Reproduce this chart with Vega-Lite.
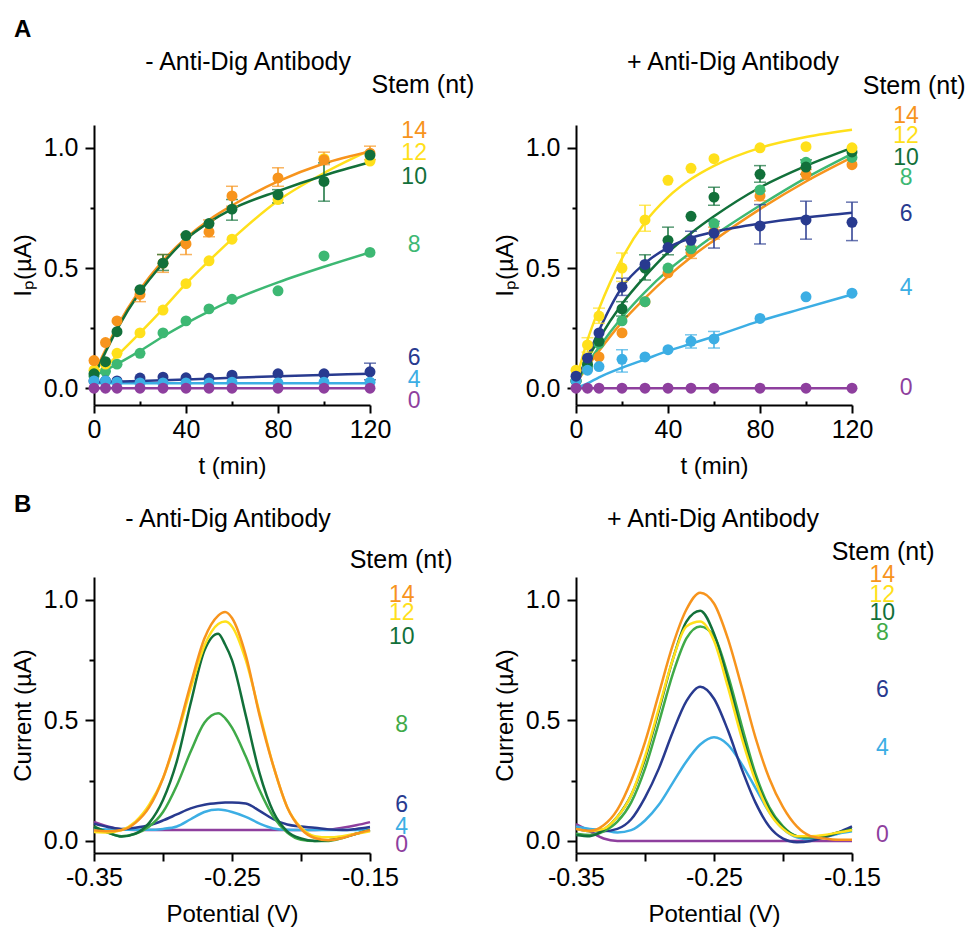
{
"$schema": "https://vega.github.io/schema/vega-lite/v6.json",
"padding": {"left": 11, "top": 17, "right": 5, "bottom": 5},
"background": "white",
"config": {
 "view": {"stroke": null},
 "font": "Liberation Sans",
 "axis": {"domainColor": "black", "domainWidth": 2, "tickColor": "black", "tickWidth": 2, "labelColor": "black", "titleColor": "black", "labelFontSize": 25, "titleFontSize": 24, "titleFontWeight": "normal", "grid": false, "labelFlush": false, "labelFont": "Liberation Sans", "titleFont": "Liberation Sans"},
 "text": {"font": "Liberation Sans", "color": "black"}
},
"datasets": {
 "pts": [
  {"g":"AL","s":"s8","t":0,"v":0.05},{"g":"AL","s":"s8","t":5,"v":0.07},{"g":"AL","s":"s8","t":10,"v":0.10},{"g":"AL","s":"s8","t":20,"v":0.145},{"g":"AL","s":"s8","t":30,"v":0.23},{"g":"AL","s":"s8","t":40,"v":0.28},{"g":"AL","s":"s8","t":50,"v":0.33},{"g":"AL","s":"s8","t":60,"v":0.37},{"g":"AL","s":"s8","t":80,"v":0.405},{"g":"AL","s":"s8","t":100,"v":0.55},{"g":"AL","s":"s8","t":120,"v":0.565},
  {"g":"AL","s":"s12","t":0,"v":0.075},{"g":"AL","s":"s12","t":5,"v":0.10},{"g":"AL","s":"s12","t":10,"v":0.145},{"g":"AL","s":"s12","t":20,"v":0.23},{"g":"AL","s":"s12","t":30,"v":0.325},{"g":"AL","s":"s12","t":40,"v":0.435},{"g":"AL","s":"s12","t":50,"v":0.53},{"g":"AL","s":"s12","t":60,"v":0.62},{"g":"AL","s":"s12","t":80,"v":0.785},{"g":"AL","s":"s12","t":100,"v":0.955},{"g":"AL","s":"s12","t":120,"v":0.945},
  {"g":"AL","s":"s14","t":0,"v":0.115},{"g":"AL","s":"s14","t":5,"v":0.19},{"g":"AL","s":"s14","t":10,"v":0.28},{"g":"AL","s":"s14","t":20,"v":0.39,"lo":0.36,"hi":0.41},{"g":"AL","s":"s14","t":30,"v":0.52,"lo":0.482,"hi":0.556},{"g":"AL","s":"s14","t":40,"v":0.60,"lo":0.556,"hi":0.64},{"g":"AL","s":"s14","t":50,"v":0.65,"lo":0.63,"hi":0.70},{"g":"AL","s":"s14","t":60,"v":0.80,"lo":0.757,"hi":0.84},{"g":"AL","s":"s14","t":80,"v":0.875,"lo":0.84,"hi":0.917},{"g":"AL","s":"s14","t":100,"v":0.95,"lo":0.93,"hi":0.982},{"g":"AL","s":"s14","t":120,"v":0.978,"lo":0.951,"hi":1.007},
  {"g":"AL","s":"s10","t":0,"v":0.06},{"g":"AL","s":"s10","t":5,"v":0.11},{"g":"AL","s":"s10","t":10,"v":0.235},{"g":"AL","s":"s10","t":20,"v":0.41},{"g":"AL","s":"s10","t":30,"v":0.52,"lo":0.49,"hi":0.556},{"g":"AL","s":"s10","t":40,"v":0.635},{"g":"AL","s":"s10","t":50,"v":0.685},{"g":"AL","s":"s10","t":60,"v":0.745,"lo":0.699,"hi":0.785},{"g":"AL","s":"s10","t":80,"v":0.805,"lo":0.771,"hi":0.826},{"g":"AL","s":"s10","t":100,"v":0.86,"lo":0.778,"hi":0.9375},{"g":"AL","s":"s10","t":120,"v":0.97},
  {"g":"AL","s":"s6","t":0,"v":0.03},{"g":"AL","s":"s6","t":5,"v":0.03},{"g":"AL","s":"s6","t":10,"v":0.03},{"g":"AL","s":"s6","t":20,"v":0.042},{"g":"AL","s":"s6","t":30,"v":0.046},{"g":"AL","s":"s6","t":40,"v":0.043},{"g":"AL","s":"s6","t":50,"v":0.041},{"g":"AL","s":"s6","t":60,"v":0.054},{"g":"AL","s":"s6","t":80,"v":0.06},{"g":"AL","s":"s6","t":100,"v":0.06},{"g":"AL","s":"s6","t":120,"v":0.068,"lo":0.035,"hi":0.104},
  {"g":"AL","s":"s4","t":0,"v":0.03},{"g":"AL","s":"s4","t":5,"v":0.03},{"g":"AL","s":"s4","t":10,"v":0.025},{"g":"AL","s":"s4","t":20,"v":0.022},{"g":"AL","s":"s4","t":30,"v":0.022},{"g":"AL","s":"s4","t":40,"v":0.022},{"g":"AL","s":"s4","t":50,"v":0.022},{"g":"AL","s":"s4","t":60,"v":0.025},{"g":"AL","s":"s4","t":80,"v":0.022},{"g":"AL","s":"s4","t":100,"v":0.025},{"g":"AL","s":"s4","t":120,"v":0.025},
  {"g":"AL","s":"s0","t":0,"v":0},{"g":"AL","s":"s0","t":5,"v":0},{"g":"AL","s":"s0","t":10,"v":0},{"g":"AL","s":"s0","t":20,"v":0},{"g":"AL","s":"s0","t":30,"v":0},{"g":"AL","s":"s0","t":40,"v":0},{"g":"AL","s":"s0","t":50,"v":0},{"g":"AL","s":"s0","t":60,"v":0},{"g":"AL","s":"s0","t":80,"v":0},{"g":"AL","s":"s0","t":100,"v":0},{"g":"AL","s":"s0","t":120,"v":0},
  {"g":"AR","s":"s14","t":0,"v":0.03},{"g":"AR","s":"s14","t":5,"v":0.08},{"g":"AR","s":"s14","t":10,"v":0.13},{"g":"AR","s":"s14","t":20,"v":0.23},{"g":"AR","s":"s14","t":30,"v":0.36},{"g":"AR","s":"s14","t":40,"v":0.48},{"g":"AR","s":"s14","t":50,"v":0.565,"lo":0.54,"hi":0.59},{"g":"AR","s":"s14","t":60,"v":0.65,"lo":0.62,"hi":0.67},{"g":"AR","s":"s14","t":80,"v":0.80,"lo":0.78,"hi":0.82},{"g":"AR","s":"s14","t":100,"v":0.89,"lo":0.87,"hi":0.91},{"g":"AR","s":"s14","t":120,"v":0.93},
  {"g":"AR","s":"s8","t":0,"v":0.03},{"g":"AR","s":"s8","t":5,"v":0.09},{"g":"AR","s":"s8","t":10,"v":0.185},{"g":"AR","s":"s8","t":20,"v":0.28},{"g":"AR","s":"s8","t":30,"v":0.36},{"g":"AR","s":"s8","t":40,"v":0.50},{"g":"AR","s":"s8","t":50,"v":0.58},{"g":"AR","s":"s8","t":60,"v":0.685},{"g":"AR","s":"s8","t":80,"v":0.825},{"g":"AR","s":"s8","t":100,"v":0.94},{"g":"AR","s":"s8","t":120,"v":0.96},
  {"g":"AR","s":"s10","t":0,"v":0.03},{"g":"AR","s":"s10","t":5,"v":0.10},{"g":"AR","s":"s10","t":10,"v":0.195},{"g":"AR","s":"s10","t":20,"v":0.33,"lo":0.30,"hi":0.36},{"g":"AR","s":"s10","t":30,"v":0.50,"lo":0.45,"hi":0.555},{"g":"AR","s":"s10","t":40,"v":0.615,"lo":0.555,"hi":0.67},{"g":"AR","s":"s10","t":50,"v":0.715},{"g":"AR","s":"s10","t":60,"v":0.795,"lo":0.761,"hi":0.836},{"g":"AR","s":"s10","t":80,"v":0.89,"lo":0.857,"hi":0.926},{"g":"AR","s":"s10","t":100,"v":0.92,"lo":0.89,"hi":0.95},{"g":"AR","s":"s10","t":120,"v":0.983},
  {"g":"AR","s":"s12","t":0,"v":0.075},{"g":"AR","s":"s12","t":5,"v":0.18,"lo":0.15,"hi":0.21},{"g":"AR","s":"s12","t":10,"v":0.30,"lo":0.27,"hi":0.333},{"g":"AR","s":"s12","t":20,"v":0.50,"lo":0.444,"hi":0.5625},{"g":"AR","s":"s12","t":30,"v":0.70,"lo":0.653,"hi":0.761},{"g":"AR","s":"s12","t":40,"v":0.865},{"g":"AR","s":"s12","t":50,"v":0.915},{"g":"AR","s":"s12","t":60,"v":0.955},{"g":"AR","s":"s12","t":80,"v":1.0},{"g":"AR","s":"s12","t":100,"v":1.005},{"g":"AR","s":"s12","t":120,"v":1.0},
  {"g":"AR","s":"s4","t":0,"v":0.03},{"g":"AR","s":"s4","t":5,"v":0.075},{"g":"AR","s":"s4","t":10,"v":0.09},{"g":"AR","s":"s4","t":20,"v":0.12,"lo":0.067,"hi":0.16},{"g":"AR","s":"s4","t":30,"v":0.13},{"g":"AR","s":"s4","t":40,"v":0.16},{"g":"AR","s":"s4","t":50,"v":0.195,"lo":0.167,"hi":0.222},{"g":"AR","s":"s4","t":60,"v":0.205,"lo":0.167,"hi":0.236},{"g":"AR","s":"s4","t":80,"v":0.29},{"g":"AR","s":"s4","t":100,"v":0.38},{"g":"AR","s":"s4","t":120,"v":0.395},
  {"g":"AR","s":"s6","t":0,"v":0.05},{"g":"AR","s":"s6","t":5,"v":0.125},{"g":"AR","s":"s6","t":10,"v":0.23},{"g":"AR","s":"s6","t":20,"v":0.42,"lo":0.386,"hi":0.458},{"g":"AR","s":"s6","t":30,"v":0.515},{"g":"AR","s":"s6","t":40,"v":0.585},{"g":"AR","s":"s6","t":50,"v":0.615,"lo":0.576,"hi":0.653},{"g":"AR","s":"s6","t":60,"v":0.645,"lo":0.583,"hi":0.694},{"g":"AR","s":"s6","t":80,"v":0.675,"lo":0.60,"hi":0.764},{"g":"AR","s":"s6","t":100,"v":0.70,"lo":0.62,"hi":0.778},{"g":"AR","s":"s6","t":120,"v":0.69,"lo":0.614,"hi":0.774},
  {"g":"AR","s":"s0","t":0,"v":0},{"g":"AR","s":"s0","t":5,"v":0},{"g":"AR","s":"s0","t":10,"v":0},{"g":"AR","s":"s0","t":20,"v":0},{"g":"AR","s":"s0","t":30,"v":0},{"g":"AR","s":"s0","t":40,"v":0},{"g":"AR","s":"s0","t":50,"v":0},{"g":"AR","s":"s0","t":60,"v":0},{"g":"AR","s":"s0","t":80,"v":0},{"g":"AR","s":"s0","t":100,"v":0},{"g":"AR","s":"s0","t":120,"v":0}
 ],
 "fits": [
  {"g":"AL","s":"s0","t":0,"v":0},{"g":"AL","s":"s0","t":120,"v":0},
  {"g":"AL","s":"s4","t":0,"v":0.02},{"g":"AL","s":"s4","t":60,"v":0.02},{"g":"AL","s":"s4","t":120,"v":0.021},
  {"g":"AL","s":"s6","t":0,"v":0.025},{"g":"AL","s":"s6","t":20,"v":0.03},{"g":"AL","s":"s6","t":40,"v":0.036},{"g":"AL","s":"s6","t":60,"v":0.043},{"g":"AL","s":"s6","t":80,"v":0.05},{"g":"AL","s":"s6","t":100,"v":0.055},{"g":"AL","s":"s6","t":120,"v":0.06},
  {"g":"AL","s":"s8","t":0,"v":0.05},{"g":"AL","s":"s8","t":5,"v":0.075},{"g":"AL","s":"s8","t":10,"v":0.10},{"g":"AL","s":"s8","t":20,"v":0.155},{"g":"AL","s":"s8","t":30,"v":0.215},{"g":"AL","s":"s8","t":40,"v":0.27},{"g":"AL","s":"s8","t":50,"v":0.32},{"g":"AL","s":"s8","t":60,"v":0.365},{"g":"AL","s":"s8","t":80,"v":0.44},{"g":"AL","s":"s8","t":100,"v":0.505},{"g":"AL","s":"s8","t":120,"v":0.565},
  {"g":"AL","s":"s12","t":0,"v":0.06},{"g":"AL","s":"s12","t":5,"v":0.09},{"g":"AL","s":"s12","t":10,"v":0.135},{"g":"AL","s":"s12","t":20,"v":0.23},{"g":"AL","s":"s12","t":30,"v":0.33},{"g":"AL","s":"s12","t":40,"v":0.435},{"g":"AL","s":"s12","t":50,"v":0.53},{"g":"AL","s":"s12","t":60,"v":0.62},{"g":"AL","s":"s12","t":80,"v":0.78},{"g":"AL","s":"s12","t":100,"v":0.895},{"g":"AL","s":"s12","t":120,"v":0.99},
  {"g":"AL","s":"s14","t":0,"v":0.06},{"g":"AL","s":"s14","t":5,"v":0.16},{"g":"AL","s":"s14","t":10,"v":0.255},{"g":"AL","s":"s14","t":20,"v":0.41},{"g":"AL","s":"s14","t":30,"v":0.53},{"g":"AL","s":"s14","t":40,"v":0.625},{"g":"AL","s":"s14","t":50,"v":0.70},{"g":"AL","s":"s14","t":60,"v":0.76},{"g":"AL","s":"s14","t":80,"v":0.86},{"g":"AL","s":"s14","t":100,"v":0.935},{"g":"AL","s":"s14","t":120,"v":0.985},
  {"g":"AL","s":"s10","t":0,"v":0.05},{"g":"AL","s":"s10","t":5,"v":0.15},{"g":"AL","s":"s10","t":10,"v":0.245},{"g":"AL","s":"s10","t":20,"v":0.40},{"g":"AL","s":"s10","t":30,"v":0.52},{"g":"AL","s":"s10","t":40,"v":0.62},{"g":"AL","s":"s10","t":50,"v":0.69},{"g":"AL","s":"s10","t":60,"v":0.745},{"g":"AL","s":"s10","t":80,"v":0.82},{"g":"AL","s":"s10","t":100,"v":0.885},{"g":"AL","s":"s10","t":120,"v":0.94},
  {"g":"AR","s":"s0","t":0,"v":0},{"g":"AR","s":"s0","t":120,"v":0},
  {"g":"AR","s":"s4","t":0,"v":0.0},{"g":"AR","s":"s4","t":5,"v":0.02},{"g":"AR","s":"s4","t":10,"v":0.045},{"g":"AR","s":"s4","t":20,"v":0.085},{"g":"AR","s":"s4","t":30,"v":0.12},{"g":"AR","s":"s4","t":40,"v":0.155},{"g":"AR","s":"s4","t":50,"v":0.185},{"g":"AR","s":"s4","t":60,"v":0.215},{"g":"AR","s":"s4","t":80,"v":0.28},{"g":"AR","s":"s4","t":100,"v":0.335},{"g":"AR","s":"s4","t":120,"v":0.39},
  {"g":"AR","s":"s14","t":0,"v":0.02},{"g":"AR","s":"s14","t":5,"v":0.09},{"g":"AR","s":"s14","t":10,"v":0.155},{"g":"AR","s":"s14","t":20,"v":0.275},{"g":"AR","s":"s14","t":30,"v":0.375},{"g":"AR","s":"s14","t":40,"v":0.465},{"g":"AR","s":"s14","t":50,"v":0.545},{"g":"AR","s":"s14","t":60,"v":0.615},{"g":"AR","s":"s14","t":80,"v":0.745},{"g":"AR","s":"s14","t":100,"v":0.86},{"g":"AR","s":"s14","t":120,"v":0.96},
  {"g":"AR","s":"s8","t":0,"v":0.02},{"g":"AR","s":"s8","t":5,"v":0.10},{"g":"AR","s":"s8","t":10,"v":0.17},{"g":"AR","s":"s8","t":20,"v":0.295},{"g":"AR","s":"s8","t":30,"v":0.40},{"g":"AR","s":"s8","t":40,"v":0.49},{"g":"AR","s":"s8","t":50,"v":0.565},{"g":"AR","s":"s8","t":60,"v":0.635},{"g":"AR","s":"s8","t":80,"v":0.76},{"g":"AR","s":"s8","t":100,"v":0.875},{"g":"AR","s":"s8","t":120,"v":0.975},
  {"g":"AR","s":"s10","t":0,"v":0.02},{"g":"AR","s":"s10","t":5,"v":0.12},{"g":"AR","s":"s10","t":10,"v":0.205},{"g":"AR","s":"s10","t":20,"v":0.35},{"g":"AR","s":"s10","t":30,"v":0.465},{"g":"AR","s":"s10","t":40,"v":0.565},{"g":"AR","s":"s10","t":50,"v":0.645},{"g":"AR","s":"s10","t":60,"v":0.715},{"g":"AR","s":"s10","t":80,"v":0.835},{"g":"AR","s":"s10","t":100,"v":0.925},{"g":"AR","s":"s10","t":120,"v":1.0},
  {"g":"AR","s":"s12","t":0,"v":0.03},{"g":"AR","s":"s12","t":5,"v":0.20},{"g":"AR","s":"s12","t":10,"v":0.33},{"g":"AR","s":"s12","t":20,"v":0.54},{"g":"AR","s":"s12","t":30,"v":0.69},{"g":"AR","s":"s12","t":40,"v":0.795},{"g":"AR","s":"s12","t":50,"v":0.87},{"g":"AR","s":"s12","t":60,"v":0.925},{"g":"AR","s":"s12","t":80,"v":1.0},{"g":"AR","s":"s12","t":100,"v":1.045},{"g":"AR","s":"s12","t":120,"v":1.075},
  {"g":"AR","s":"s6","t":0,"v":0.03},{"g":"AR","s":"s6","t":5,"v":0.13},{"g":"AR","s":"s6","t":10,"v":0.24},{"g":"AR","s":"s6","t":20,"v":0.42},{"g":"AR","s":"s6","t":30,"v":0.52},{"g":"AR","s":"s6","t":40,"v":0.585},{"g":"AR","s":"s6","t":50,"v":0.625},{"g":"AR","s":"s6","t":60,"v":0.65},{"g":"AR","s":"s6","t":80,"v":0.685},{"g":"AR","s":"s6","t":100,"v":0.71},{"g":"AR","s":"s6","t":120,"v":0.73}
 ],
 "labs": [
  {"g":"AL","s":"s14","lab":"14","lx":139.2,"ly":1.072},{"g":"AL","s":"s12","lab":"12","lx":139.2,"ly":0.979},{"g":"AL","s":"s10","lab":"10","lx":139.2,"ly":0.88},{"g":"AL","s":"s8","lab":"8","lx":139.2,"ly":0.596},{"g":"AL","s":"s6","lab":"6","lx":139.2,"ly":0.125},{"g":"AL","s":"s4","lab":"4","lx":139.2,"ly":0.033},{"g":"AL","s":"s0","lab":"0","lx":139.2,"ly":-0.053},
  {"g":"AR","s":"s14","lab":"14","lx":143.5,"ly":1.133},{"g":"AR","s":"s12","lab":"12","lx":143.5,"ly":1.05},{"g":"AR","s":"s10","lab":"10","lx":143.5,"ly":0.958},{"g":"AR","s":"s8","lab":"8","lx":143.5,"ly":0.875},{"g":"AR","s":"s6","lab":"6","lx":143.5,"ly":0.725},{"g":"AR","s":"s4","lab":"4","lx":143.5,"ly":0.417},{"g":"AR","s":"s0","lab":"0","lx":143.5,"ly":0.0},
  {"g":"BL","s":"s14","lab":"14","lx":-0.127,"ly":1.021},{"g":"BL","s":"s12","lab":"12","lx":-0.127,"ly":0.946},{"g":"BL","s":"s10","lab":"10","lx":-0.127,"ly":0.846},{"g":"BL","s":"s8","lab":"8","lx":-0.127,"ly":0.481},{"g":"BL","s":"s6","lab":"6","lx":-0.127,"ly":0.149},{"g":"BL","s":"s4","lab":"4","lx":-0.127,"ly":0.058},{"g":"BL","s":"s0","lab":"0","lx":-0.127,"ly":-0.017},
  {"g":"BR","s":"s14","lab":"14","lx":-0.128,"ly":1.104},{"g":"BR","s":"s12","lab":"12","lx":-0.128,"ly":1.021},{"g":"BR","s":"s10","lab":"10","lx":-0.128,"ly":0.946},{"g":"BR","s":"s8","lab":"8","lx":-0.128,"ly":0.863},{"g":"BR","s":"s6","lab":"6","lx":-0.128,"ly":0.627},{"g":"BR","s":"s4","lab":"4","lx":-0.128,"ly":0.386},{"g":"BR","s":"s0","lab":"0","lx":-0.128,"ly":0.025}
 ],
 "BL": [
  {"p":-0.35,"s0":0.079,"s4":0.05,"s6":0.072,"s8":0.06,"s10":0.058,"s12":0.037,"s14":0.044},
  {"p":-0.34,"s0":0.06,"s4":0.048,"s6":0.058,"s8":0.035,"s10":0.035,"s12":0.035,"s14":0.04},
  {"p":-0.33,"s0":0.048,"s4":0.046,"s6":0.05,"s8":0.02,"s10":0.018,"s12":0.045,"s14":0.045},
  {"p":-0.32,"s0":0.045,"s4":0.046,"s6":0.055,"s8":0.03,"s10":0.03,"s12":0.08,"s14":0.075},
  {"p":-0.31,"s0":0.045,"s4":0.046,"s6":0.065,"s8":0.06,"s10":0.075,"s12":0.15,"s14":0.14},
  {"p":-0.30,"s0":0.045,"s4":0.05,"s6":0.085,"s8":0.12,"s10":0.17,"s12":0.26,"s14":0.26},
  {"p":-0.29,"s0":0.045,"s4":0.06,"s6":0.11,"s8":0.23,"s10":0.33,"s12":0.43,"s14":0.44},
  {"p":-0.28,"s0":0.045,"s4":0.09,"s6":0.135,"s8":0.37,"s10":0.57,"s12":0.63,"s14":0.65},
  {"p":-0.27,"s0":0.045,"s4":0.12,"s6":0.15,"s8":0.49,"s10":0.79,"s12":0.81,"s14":0.84},
  {"p":-0.26,"s0":0.045,"s4":0.13,"s6":0.157,"s8":0.53,"s10":0.86,"s12":0.90,"s14":0.935},
  {"p":-0.255,"s0":0.045,"s4":0.127,"s6":0.159,"s8":0.51,"s10":0.815,"s12":0.91,"s14":0.95},
  {"p":-0.25,"s0":0.045,"s4":0.12,"s6":0.16,"s8":0.47,"s10":0.75,"s12":0.89,"s14":0.925},
  {"p":-0.24,"s0":0.045,"s4":0.10,"s6":0.155,"s8":0.35,"s10":0.52,"s12":0.75,"s14":0.77},
  {"p":-0.23,"s0":0.045,"s4":0.072,"s6":0.125,"s8":0.21,"s10":0.28,"s12":0.53,"s14":0.52},
  {"p":-0.22,"s0":0.045,"s4":0.052,"s6":0.09,"s8":0.10,"s10":0.12,"s12":0.31,"s14":0.31},
  {"p":-0.21,"s0":0.045,"s4":0.046,"s6":0.068,"s8":0.035,"s10":0.04,"s12":0.14,"s14":0.14},
  {"p":-0.20,"s0":0.045,"s4":0.045,"s6":0.06,"s8":0.005,"s10":0.01,"s12":0.055,"s14":0.05},
  {"p":-0.19,"s0":0.045,"s4":0.045,"s6":0.055,"s8":0.0,"s10":0.0,"s12":0.02,"s14":0.012},
  {"p":-0.18,"s0":0.047,"s4":0.045,"s6":0.048,"s8":0.0,"s10":0.003,"s12":0.015,"s14":0.003},
  {"p":-0.17,"s0":0.055,"s4":0.045,"s6":0.045,"s8":0.012,"s10":0.015,"s12":0.02,"s14":0.012},
  {"p":-0.16,"s0":0.065,"s4":0.045,"s6":0.05,"s8":0.03,"s10":0.03,"s12":0.03,"s14":0.03},
  {"p":-0.15,"s0":0.078,"s4":0.047,"s6":0.058,"s8":0.045,"s10":0.045,"s12":0.04,"s14":0.045}
 ],
 "BR": [
  {"p":-0.35,"s0":0.07,"s4":0.06,"s6":0.05,"s8":0.03,"s10":0.025,"s12":0.05,"s14":0.05},
  {"p":-0.34,"s0":0.04,"s4":0.05,"s6":0.04,"s8":0.025,"s10":0.02,"s12":0.04,"s14":0.042},
  {"p":-0.33,"s0":0.01,"s4":0.045,"s6":0.04,"s8":0.04,"s10":0.045,"s12":0.05,"s14":0.065},
  {"p":-0.32,"s0":0.0,"s4":0.035,"s6":0.05,"s8":0.08,"s10":0.10,"s12":0.10,"s14":0.13},
  {"p":-0.31,"s0":0.0,"s4":0.045,"s6":0.09,"s8":0.16,"s10":0.19,"s12":0.19,"s14":0.25},
  {"p":-0.30,"s0":0.0,"s4":0.085,"s6":0.18,"s8":0.30,"s10":0.34,"s12":0.35,"s14":0.41},
  {"p":-0.29,"s0":0.0,"s4":0.15,"s6":0.30,"s8":0.49,"s10":0.54,"s12":0.55,"s14":0.61},
  {"p":-0.28,"s0":0.0,"s4":0.24,"s6":0.45,"s8":0.69,"s10":0.75,"s12":0.75,"s14":0.81},
  {"p":-0.27,"s0":0.0,"s4":0.33,"s6":0.58,"s8":0.84,"s10":0.91,"s12":0.89,"s14":0.96},
  {"p":-0.26,"s0":0.0,"s4":0.40,"s6":0.64,"s8":0.89,"s10":0.955,"s12":0.91,"s14":1.03},
  {"p":-0.25,"s0":0.0,"s4":0.43,"s6":0.59,"s8":0.85,"s10":0.86,"s12":0.83,"s14":0.985},
  {"p":-0.24,"s0":0.0,"s4":0.40,"s6":0.46,"s8":0.69,"s10":0.67,"s12":0.64,"s14":0.84},
  {"p":-0.23,"s0":0.0,"s4":0.32,"s6":0.30,"s8":0.48,"s10":0.45,"s12":0.43,"s14":0.64},
  {"p":-0.22,"s0":0.0,"s4":0.22,"s6":0.16,"s8":0.28,"s10":0.26,"s12":0.25,"s14":0.43},
  {"p":-0.21,"s0":0.0,"s4":0.12,"s6":0.06,"s8":0.14,"s10":0.13,"s12":0.12,"s14":0.26},
  {"p":-0.20,"s0":0.0,"s4":0.05,"s6":0.01,"s8":0.06,"s10":0.055,"s12":0.05,"s14":0.14},
  {"p":-0.19,"s0":0.0,"s4":0.015,"s6":-0.005,"s8":0.02,"s10":0.02,"s12":0.02,"s14":0.06},
  {"p":-0.18,"s0":0.0,"s4":0.005,"s6":0.0,"s8":0.015,"s10":0.015,"s12":0.02,"s14":0.02},
  {"p":-0.17,"s0":0.0,"s4":0.015,"s6":0.015,"s8":0.02,"s10":0.02,"s12":0.025,"s14":0.01},
  {"p":-0.16,"s0":0.0,"s4":0.03,"s6":0.035,"s8":0.035,"s10":0.035,"s12":0.035,"s14":0.005},
  {"p":-0.15,"s0":0.0,"s4":0.04,"s6":0.06,"s8":0.045,"s10":0.05,"s12":0.045,"s14":0.005}
 ]
},
"columns": 2,
"spacing": {"row": 172, "column": 206},
"bounds": "flush",
"resolve": {"scale": {"color": "independent"}},
"concat": [
 {
  "width": 276, "height": 280,
  "layer": [
   {"data": {"name": "fits"}, "transform": [{"filter": "datum.g === 'AL'"}],
    "mark": {"type": "line", "interpolate": "monotone", "strokeWidth": 2.5},
    "encoding": {
     "x": {"field": "t", "type": "quantitative", "title": "t (min)", "scale": {"domain": [0, 120], "nice": false}, "axis": {"values": [0, 20, 40, 60, 80, 100, 120], "labelExpr": "datum.value % 40 === 0 ? datum.label : ''", "tickSize": {"condition": {"test": "datum.value % 40 === 0", "value": 8}, "value": -4}, "labelPadding": 4, "titlePadding": 12}},
     "y": {"field": "v", "type": "quantitative", "title": "Iₚ(µA)", "scale": {"domain": [-0.07, 1.095], "nice": false, "zero": false}, "axis": {"values": [0, 0.25, 0.5, 0.75, 1], "format": ".1f", "labelExpr": "datum.value % 0.5 === 0 ? datum.label : ''", "tickSize": {"condition": {"test": "datum.value % 0.5 === 0", "value": 9}, "value": 4}, "labelPadding": 7, "titlePadding": 8}},
     "color": {"field": "s", "type": "nominal", "scale": {"domain": ["s0","s4","s6","s8","s10","s12","s14"], "range": ["#8E3F9E","#3CAEE4","#283A8F","#3DB873","#12703A","#FFE01B","#F7941D"]}, "legend": null}
    }},
   {"data": {"name": "pts"}, "transform": [{"filter": "datum.g === 'AL' && isValid(datum.lo)"}],
    "mark": {"type": "errorbar", "ticks": {"size": 12, "thickness": 1.5}, "thickness": 1.5},
    "encoding": {
     "x": {"field": "t", "type": "quantitative", "title": "t (min)"},
     "y": {"field": "lo", "type": "quantitative", "title": "Iₚ(µA)"},
     "y2": {"field": "hi"},
     "color": {"field": "s", "type": "nominal", "legend": null}
    }},
   {"data": {"name": "pts"}, "transform": [{"filter": "datum.g === 'AL'"}],
    "mark": {"type": "point", "filled": true, "size": 120, "opacity": 1},
    "encoding": {
     "x": {"field": "t", "type": "quantitative", "title": "t (min)"},
     "y": {"field": "v", "type": "quantitative", "title": "Iₚ(µA)"},
     "color": {"field": "s", "type": "nominal", "legend": null}
    }},
   {"data": {"name": "labs"}, "transform": [{"filter": "datum.g === 'AL'"}],
    "mark": {"type": "text", "fontSize": 23, "align": "center", "baseline": "middle"},
    "encoding": {
     "x": {"field": "lx", "type": "quantitative", "title": "t (min)"},
     "y": {"field": "ly", "type": "quantitative", "title": "Iₚ(µA)"},
     "text": {"field": "lab"},
     "color": {"field": "s", "type": "nominal", "legend": null}
    }},
   {"data": {"values": [{}]}, "mark": {"type": "text", "fontSize": 25, "align": "center", "baseline": "middle"},
    "encoding": {"x": {"datum": 143, "type": "quantitative"}, "y": {"datum": 1.2625, "type": "quantitative"}, "text": {"value": "Stem (nt)"}}},
   {"data": {"values": [{}]}, "mark": {"type": "text", "fontSize": 25, "align": "center", "baseline": "middle"},
    "encoding": {"x": {"datum": 67, "type": "quantitative"}, "y": {"datum": 1.358, "type": "quantitative"}, "text": {"value": "- Anti-Dig Antibody"}}},
   {"data": {"values": [{}]}, "mark": {"type": "text", "fontSize": 24, "fontWeight": "bold", "align": "left", "baseline": "alphabetic"},
    "encoding": {"x": {"datum": -34.8, "type": "quantitative"}, "y": {"datum": 1.462, "type": "quantitative"}, "text": {"value": "A"}}}
  ]
 },
 {
  "width": 276, "height": 280,
  "layer": [
   {"data": {"name": "fits"}, "transform": [{"filter": "datum.g === 'AR'"}],
    "mark": {"type": "line", "interpolate": "monotone", "strokeWidth": 2.5},
    "encoding": {
     "x": {"field": "t", "type": "quantitative", "title": "t (min)", "scale": {"domain": [0, 120], "nice": false}, "axis": {"values": [0, 20, 40, 60, 80, 100, 120], "labelExpr": "datum.value % 40 === 0 ? datum.label : ''", "tickSize": {"condition": {"test": "datum.value % 40 === 0", "value": 8}, "value": -4}, "labelPadding": 4, "titlePadding": 12}},
     "y": {"field": "v", "type": "quantitative", "title": "Iₚ(µA)", "scale": {"domain": [-0.07, 1.095], "nice": false, "zero": false}, "axis": {"values": [0, 0.25, 0.5, 0.75, 1], "format": ".1f", "labelExpr": "datum.value % 0.5 === 0 ? datum.label : ''", "tickSize": {"condition": {"test": "datum.value % 0.5 === 0", "value": 9}, "value": 4}, "labelPadding": 7, "titlePadding": 8}},
     "color": {"field": "s", "type": "nominal", "scale": {"domain": ["s0","s4","s6","s8","s10","s12","s14"], "range": ["#8E3F9E","#3CAEE4","#283A8F","#3DB873","#12703A","#FFE01B","#F7941D"]}, "legend": null}
    }},
   {"data": {"name": "pts"}, "transform": [{"filter": "datum.g === 'AR' && isValid(datum.lo)"}],
    "mark": {"type": "errorbar", "ticks": {"size": 12, "thickness": 1.5}, "thickness": 1.5},
    "encoding": {
     "x": {"field": "t", "type": "quantitative", "title": "t (min)"},
     "y": {"field": "lo", "type": "quantitative", "title": "Iₚ(µA)"},
     "y2": {"field": "hi"},
     "color": {"field": "s", "type": "nominal", "legend": null}
    }},
   {"data": {"name": "pts"}, "transform": [{"filter": "datum.g === 'AR'"}],
    "mark": {"type": "point", "filled": true, "size": 120, "opacity": 1},
    "encoding": {
     "x": {"field": "t", "type": "quantitative", "title": "t (min)"},
     "y": {"field": "v", "type": "quantitative", "title": "Iₚ(µA)"},
     "color": {"field": "s", "type": "nominal", "legend": null}
    }},
   {"data": {"name": "labs"}, "transform": [{"filter": "datum.g === 'AR'"}],
    "mark": {"type": "text", "fontSize": 23, "align": "center", "baseline": "middle"},
    "encoding": {
     "x": {"field": "lx", "type": "quantitative", "title": "t (min)"},
     "y": {"field": "ly", "type": "quantitative", "title": "Iₚ(µA)"},
     "text": {"field": "lab"},
     "color": {"field": "s", "type": "nominal", "legend": null}
    }},
   {"data": {"values": [{}]}, "mark": {"type": "text", "fontSize": 25, "align": "center", "baseline": "middle"},
    "encoding": {"x": {"datum": 147, "type": "quantitative"}, "y": {"datum": 1.258, "type": "quantitative"}, "text": {"value": "Stem (nt)"}}},
   {"data": {"values": [{}]}, "mark": {"type": "text", "fontSize": 25, "align": "center", "baseline": "middle"},
    "encoding": {"x": {"datum": 68.3, "type": "quantitative"}, "y": {"datum": 1.358, "type": "quantitative"}, "text": {"value": "+ Anti-Dig Antibody"}}}
  ]
 },
 {
  "width": 276, "height": 276,
  "layer": [
   {"data": {"name": "BL"}, "transform": [{"fold": ["s0","s4","s6","s8","s10","s12","s14"], "as": ["s", "v"]}],
    "mark": {"type": "line", "interpolate": "monotone", "strokeWidth": 2.5},
    "encoding": {
     "x": {"field": "p", "type": "quantitative", "title": "Potential (V)", "scale": {"domain": [-0.35, -0.15], "nice": false, "zero": false}, "axis": {"values": [-0.35, -0.3, -0.25, -0.2, -0.15], "labelExpr": "abs(datum.value + 0.3) < 0.001 || abs(datum.value + 0.2) < 0.001 ? '' : '-' + format(abs(datum.value), '.2f')", "tickSize": 8, "labelPadding": 4, "titlePadding": 12}},
     "y": {"field": "v", "type": "quantitative", "title": "Current (µA)", "scale": {"domain": [-0.05, 1.095], "nice": false, "zero": false}, "axis": {"values": [0, 0.25, 0.5, 0.75, 1], "format": ".1f", "labelExpr": "datum.value % 0.5 === 0 ? datum.label : ''", "tickSize": {"condition": {"test": "datum.value % 0.5 === 0", "value": 9}, "value": 5}, "labelPadding": 7, "titlePadding": 8}},
     "color": {"field": "s", "type": "nominal", "scale": {"domain": ["s0","s4","s6","s8","s10","s12","s14"], "range": ["#8E3F9E","#3CAEE4","#283A8F","#3FAA48","#12703A","#FFE01B","#F7941D"]}, "legend": null}
    }},
   {"data": {"name": "labs"}, "transform": [{"filter": "datum.g === 'BL'"}],
    "mark": {"type": "text", "fontSize": 23, "align": "center", "baseline": "middle"},
    "encoding": {
     "x": {"field": "lx", "type": "quantitative", "title": "Potential (V)"},
     "y": {"field": "ly", "type": "quantitative", "title": "Current (µA)"},
     "text": {"field": "lab"},
     "color": {"field": "s", "type": "nominal", "legend": null}
    }},
   {"data": {"values": [{}]}, "mark": {"type": "text", "fontSize": 25, "align": "center", "baseline": "middle"},
    "encoding": {"x": {"datum": -0.1275, "type": "quantitative"}, "y": {"datum": 1.166, "type": "quantitative"}, "text": {"value": "Stem (nt)"}}},
   {"data": {"values": [{}]}, "mark": {"type": "text", "fontSize": 25, "align": "center", "baseline": "middle"},
    "encoding": {"x": {"datum": -0.2529, "type": "quantitative"}, "y": {"datum": 1.336, "type": "quantitative"}, "text": {"value": "- Anti-Dig Antibody"}}},
   {"data": {"values": [{}]}, "mark": {"type": "text", "fontSize": 24, "fontWeight": "bold", "align": "left", "baseline": "alphabetic"},
    "encoding": {"x": {"datum": -0.408, "type": "quantitative"}, "y": {"datum": 1.365, "type": "quantitative"}, "text": {"value": "B"}}}
  ]
 },
 {
  "width": 276, "height": 276,
  "layer": [
   {"data": {"name": "BR"}, "transform": [{"fold": ["s0","s4","s6","s8","s10","s12","s14"], "as": ["s", "v"]}],
    "mark": {"type": "line", "interpolate": "monotone", "strokeWidth": 2.5},
    "encoding": {
     "x": {"field": "p", "type": "quantitative", "title": "Potential (V)", "scale": {"domain": [-0.35, -0.15], "nice": false, "zero": false}, "axis": {"values": [-0.35, -0.3, -0.25, -0.2, -0.15], "labelExpr": "abs(datum.value + 0.3) < 0.001 || abs(datum.value + 0.2) < 0.001 ? '' : '-' + format(abs(datum.value), '.2f')", "tickSize": 8, "labelPadding": 4, "titlePadding": 12}},
     "y": {"field": "v", "type": "quantitative", "title": "Current (µA)", "scale": {"domain": [-0.05, 1.095], "nice": false, "zero": false}, "axis": {"values": [0, 0.25, 0.5, 0.75, 1], "format": ".1f", "labelExpr": "datum.value % 0.5 === 0 ? datum.label : ''", "tickSize": {"condition": {"test": "datum.value % 0.5 === 0", "value": 9}, "value": 5}, "labelPadding": 7, "titlePadding": 8}},
     "color": {"field": "s", "type": "nominal", "scale": {"domain": ["s0","s4","s6","s8","s10","s12","s14"], "range": ["#8E3F9E","#3CAEE4","#283A8F","#3FAA48","#12703A","#FFE01B","#F7941D"]}, "legend": null}
    }},
   {"data": {"name": "labs"}, "transform": [{"filter": "datum.g === 'BR'"}],
    "mark": {"type": "text", "fontSize": 23, "align": "center", "baseline": "middle"},
    "encoding": {
     "x": {"field": "lx", "type": "quantitative", "title": "Potential (V)"},
     "y": {"field": "ly", "type": "quantitative", "title": "Current (µA)"},
     "text": {"field": "lab"},
     "color": {"field": "s", "type": "nominal", "legend": null}
    }},
   {"data": {"values": [{}]}, "mark": {"type": "text", "fontSize": 25, "align": "center", "baseline": "middle"},
    "encoding": {"x": {"datum": -0.1275, "type": "quantitative"}, "y": {"datum": 1.199, "type": "quantitative"}, "text": {"value": "Stem (nt)"}}},
   {"data": {"values": [{}]}, "mark": {"type": "text", "fontSize": 25, "align": "center", "baseline": "middle"},
    "encoding": {"x": {"datum": -0.2507, "type": "quantitative"}, "y": {"datum": 1.336, "type": "quantitative"}, "text": {"value": "+ Anti-Dig Antibody"}}}
  ]
 }
]
}
